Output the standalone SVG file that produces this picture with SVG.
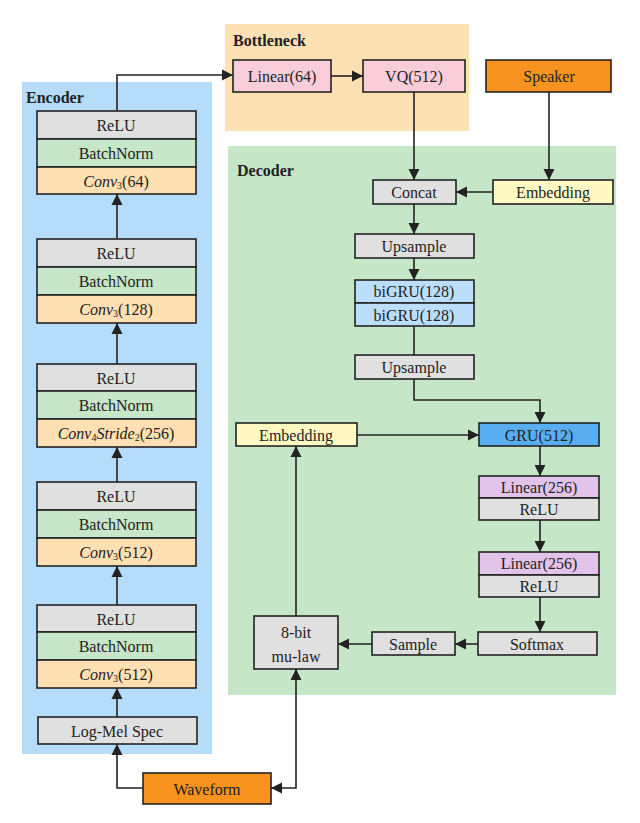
<svg xmlns="http://www.w3.org/2000/svg" width="640" height="823" viewBox="0 0 640 823">
<style>
text{font-family:"Liberation Serif","Times New Roman",serif;font-size:16px;fill:#222;text-anchor:middle;dominant-baseline:central}
.t{font-weight:bold;text-anchor:start;font-size:16px}
.b{stroke:#222;stroke-width:1.6}
.g{fill:#e0e0e0}.n{fill:#c8e6c9}.o{fill:#ffe0b2}.p{fill:#f8ccd8}.v{fill:#e2c4ea}.y{fill:#fff9c4}.s{fill:#bbdefb}
.c{fill:none;stroke:#222;stroke-width:1.6}
.it{font-style:italic}
.sub{font-size:10px}
</style>
<defs><marker id="a" viewBox="0 0 10 10" refX="10" refY="5" markerWidth="7" markerHeight="7" orient="auto-start-reverse"><path d="M0,0L10,5L0,10z" fill="#222"/></marker></defs>
<rect x="0" y="0" width="640" height="823" fill="#fff"/>
<rect x="22" y="82" width="190" height="672" fill="#b5dcf8"/>
<rect x="225" y="24" width="244" height="107" fill="#fde0b3"/>
<rect x="228" y="146" width="388" height="549" fill="#c6e6c8"/>
<text class="t" x="26" y="97">Encoder</text>
<text class="t" x="233" y="40">Bottleneck</text>
<text class="t" x="237" y="170">Decoder</text>
<g id="connectors">
<path class="c" d="M117,111V75H233" marker-end="url(#a)"/>
<path class="c" d="M117,239V194" marker-end="url(#a)"/>
<path class="c" d="M117,364V323" marker-end="url(#a)"/>
<path class="c" d="M117,482V447" marker-end="url(#a)"/>
<path class="c" d="M117,605V566" marker-end="url(#a)"/>
<path class="c" d="M117,717V688" marker-end="url(#a)"/>
<path class="c" d="M143,788H117V744" marker-end="url(#a)"/>
<path class="c" d="M271,788H296V669" marker-start="url(#a)" marker-end="url(#a)"/>
<path class="c" d="M331,76H363" marker-end="url(#a)"/>
<path class="c" d="M414,92V180" marker-end="url(#a)"/>
<path class="c" d="M549,92V180" marker-end="url(#a)"/>
<path class="c" d="M493,192H456" marker-end="url(#a)"/>
<path class="c" d="M414,204V234" marker-end="url(#a)"/>
<path class="c" d="M414,258V280" marker-end="url(#a)"/>
<path class="c" d="M414,326V355"/>
<path class="c" d="M414,379V400H540V423" marker-end="url(#a)"/>
<path class="c" d="M357,435H479" marker-end="url(#a)"/>
<path class="c" d="M540,446V476" marker-end="url(#a)"/>
<path class="c" d="M540,520V552" marker-end="url(#a)"/>
<path class="c" d="M540,597V632" marker-end="url(#a)"/>
<path class="c" d="M478,644H455" marker-end="url(#a)"/>
<path class="c" d="M372,644H338" marker-end="url(#a)"/>
<path class="c" d="M296,616V446" marker-end="url(#a)"/>
</g>
<g id="enc1"><rect class="b g" x="37" y="111" width="159" height="28"/><rect class="b n" x="37" y="139" width="159" height="28"/><rect class="b o" x="37" y="167" width="159" height="27"/>
<text x="116" y="125">ReLU</text><text x="116" y="153">BatchNorm</text><text x="116" y="181"><tspan class="it">Conv</tspan><tspan class="sub" dy="4">3</tspan><tspan dy="-4">(64)</tspan></text></g>
<g id="enc2"><rect class="b g" x="37" y="239" width="159" height="28"/><rect class="b n" x="37" y="267" width="159" height="28"/><rect class="b o" x="37" y="295" width="159" height="28"/>
<text x="116" y="253">ReLU</text><text x="116" y="281">BatchNorm</text><text x="116" y="309"><tspan class="it">Conv</tspan><tspan class="sub" dy="4">3</tspan><tspan dy="-4">(128)</tspan></text></g>
<g id="enc3"><rect class="b g" x="37" y="364" width="159" height="27"/><rect class="b n" x="37" y="391" width="159" height="28"/><rect class="b o" x="37" y="419" width="159" height="28"/>
<text x="116" y="378">ReLU</text><text x="116" y="405">BatchNorm</text><text x="116" y="433"><tspan class="it">Conv</tspan><tspan class="sub" dy="4">4</tspan><tspan class="it" dy="-4">Stride</tspan><tspan class="sub" dy="4">2</tspan><tspan dy="-4">(256)</tspan></text></g>
<g id="enc4"><rect class="b g" x="37" y="482" width="159" height="28"/><rect class="b n" x="37" y="510" width="159" height="28"/><rect class="b o" x="37" y="538" width="159" height="28"/>
<text x="116" y="496">ReLU</text><text x="116" y="524">BatchNorm</text><text x="116" y="552"><tspan class="it">Conv</tspan><tspan class="sub" dy="4">3</tspan><tspan dy="-4">(512)</tspan></text></g>
<g id="enc5"><rect class="b g" x="37" y="605" width="159" height="27"/><rect class="b n" x="37" y="632" width="159" height="28"/><rect class="b o" x="37" y="660" width="159" height="28"/>
<text x="116" y="619">ReLU</text><text x="116" y="646">BatchNorm</text><text x="116" y="674"><tspan class="it">Conv</tspan><tspan class="sub" dy="4">3</tspan><tspan dy="-4">(512)</tspan></text></g>
<g id="logmel"><rect class="b g" x="38" y="717" width="159" height="27"/><text x="117" y="731">Log-Mel Spec</text></g>
<g id="waveform"><rect class="b" fill="#f7931e" x="143" y="773" width="128" height="31"/><text x="207" y="789">Waveform</text></g>
<g id="linear64"><rect class="b p" x="233" y="60" width="98" height="32"/><text x="282" y="76">Linear(64)</text></g>
<g id="vq"><rect class="b p" x="363" y="60" width="102" height="32"/><text x="414" y="76">VQ(512)</text></g>
<g id="speaker"><rect class="b" fill="#f7931e" x="486" y="60" width="125" height="32"/><text x="549" y="76">Speaker</text></g>
<g id="concat"><rect class="b g" x="373" y="180" width="83" height="24"/><text x="414" y="192">Concat</text></g>
<g id="spkemb"><rect class="b y" x="493" y="180" width="120" height="24"/><text x="553" y="192">Embedding</text></g>
<g id="up1"><rect class="b g" x="355" y="234" width="119" height="24"/><text x="414" y="246">Upsample</text></g>
<g id="bigru"><rect class="b s" x="355" y="280" width="119" height="23"/><rect class="b s" x="355" y="303" width="119" height="23"/><text x="414" y="291">biGRU(128)</text><text x="414" y="315">biGRU(128)</text></g>
<g id="up2"><rect class="b g" x="355" y="355" width="119" height="24"/><text x="414" y="367">Upsample</text></g>
<g id="emb"><rect class="b y" x="236" y="423" width="121" height="23"/><text x="296" y="435">Embedding</text></g>
<g id="gru"><rect class="b" fill="#58aef0" x="479" y="423" width="120" height="23"/><text x="539" y="435">GRU(512)</text></g>
<g id="lin1"><rect class="b v" x="479" y="476" width="120" height="22"/><rect class="b g" x="479" y="498" width="120" height="22"/><text x="539" y="487">Linear(256)</text><text x="539" y="509">ReLU</text></g>
<g id="lin2"><rect class="b v" x="479" y="552" width="120" height="23"/><rect class="b g" x="479" y="575" width="120" height="22"/><text x="539" y="563">Linear(256)</text><text x="539" y="586">ReLU</text></g>
<g id="softmax"><rect class="b g" x="478" y="632" width="119" height="23"/><text x="537" y="644">Softmax</text></g>
<g id="sample"><rect class="b g" x="372" y="632" width="83" height="23"/><text x="413" y="644">Sample</text></g>
<g id="mulaw"><rect class="b g" x="254" y="616" width="84" height="53"/><text x="296" y="632">8-bit</text><text x="296" y="656">mu-law</text></g>
</svg>
